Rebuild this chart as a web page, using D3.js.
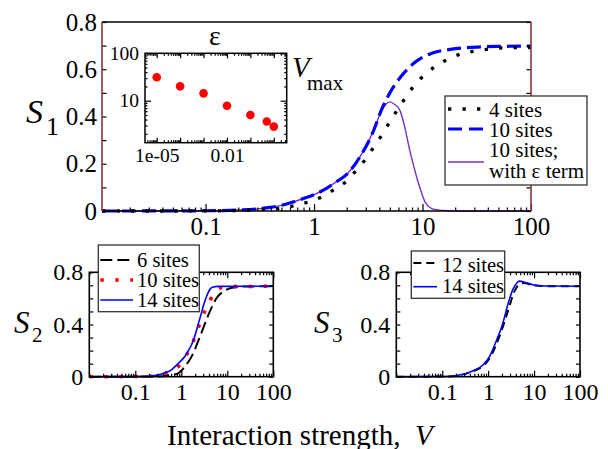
<!DOCTYPE html>
<html>
<head>
<meta charset="utf-8">
<script src="https://d3js.org/d3.v7.min.js"></script>
<style>
  html, body { margin: 0; padding: 0; background: #fff; }
  svg { display: block; }
</style>
</head>
<body>
<script>
// ---------------- DATA ----------------
// Top panel (S1)
const top4V  = [0.0111, 0.05, 0.1, 0.2, 0.35, 0.48, 0.65, 0.87, 1.18, 1.5, 2.0, 2.45, 3.0, 3.57, 4.24, 5.0, 5.94, 7.05, 8.4, 10.5, 13.4, 17.7, 23.4, 32, 44, 61, 100];
const top4S  = [0, 0, 0.0005, 0.002, 0.007, 0.011, 0.022, 0.037, 0.06, 0.088, 0.127, 0.172, 0.221, 0.272, 0.323, 0.378, 0.432, 0.483, 0.532, 0.577, 0.615, 0.645, 0.667, 0.678, 0.687, 0.691, 0.692];
const top10V = [0.0111, 0.05, 0.1, 0.2, 0.33, 0.5, 0.64, 0.8, 1.0, 1.3, 1.6, 2.0, 2.7, 3.5, 4.2, 5.0, 6.3, 8.3, 12, 18, 32, 56, 100];
const top10S = [0, 0.0003, 0.001, 0.004, 0.011, 0.024, 0.038, 0.053, 0.069, 0.096, 0.123, 0.155, 0.235, 0.335, 0.43, 0.50, 0.568, 0.625, 0.667, 0.684, 0.694, 0.697, 0.698];
const topEpsV = [0.0111, 0.05, 0.1, 0.2, 0.33, 0.5, 0.64, 0.8, 1.0, 1.3, 1.6, 2.0, 2.7, 3.5, 4.2, 4.6, 5.0, 5.5, 6.2, 6.9, 7.6, 8.3, 9.0, 9.6, 10.7, 12.8, 17.9, 25, 100];
const topEpsS = [0, 0.0003, 0.001, 0.004, 0.011, 0.024, 0.038, 0.053, 0.069, 0.096, 0.123, 0.155, 0.235, 0.335, 0.425, 0.452, 0.462, 0.452, 0.425, 0.35, 0.26, 0.19, 0.13, 0.089, 0.033, 0.007, 0.001, 0, 0];

// Inset: V_max vs epsilon
const insetEps  = [1e-5, 1e-4, 1e-3, 1e-2, 0.1, 0.5, 1];
const insetVmax = [31.3, 20.1, 14.3, 7.8, 5.0, 3.63, 2.84];

// Bottom-left panel (S2)
const bl6V  = [0.01, 0.1, 0.3, 0.5, 0.7, 0.85, 1.0, 1.19, 1.67, 2.32, 2.99, 4.18, 5.85, 8.9, 14.6, 25, 100];
const bl6S  = [0, 0, 0.002, 0.008, 0.017, 0.026, 0.045, 0.077, 0.154, 0.27, 0.372, 0.5, 0.603, 0.66, 0.685, 0.691, 0.693];
const bl10V = [0.01, 0.1, 0.2, 0.44, 0.85, 1.3, 1.81, 2.32, 3.0, 4.18, 5.85, 8, 12.4, 100];
const bl10S = [0, 0.001, 0.004, 0.026, 0.077, 0.167, 0.27, 0.372, 0.475, 0.582, 0.667, 0.685, 0.69, 0.693];
const bl14V = [0.01, 0.1, 0.2, 0.3, 0.44, 0.6, 0.72, 0.85, 1.0, 1.19, 1.4, 1.67, 2.0, 2.32, 2.65, 3.0, 3.4, 3.84, 4.3, 4.9, 6.3, 100];
const bl14S = [0, 0.001, 0.005, 0.012, 0.03, 0.05, 0.075, 0.1, 0.125, 0.155, 0.195, 0.245, 0.32, 0.40, 0.47, 0.54, 0.6, 0.645, 0.675, 0.687, 0.692, 0.693];

// Bottom-right panel (S3)
const br12V = [0.01, 0.1, 0.24, 0.46, 0.77, 1.07, 1.77, 2.68, 3.74, 4.82, 6.18, 9.4, 18.2, 100];
const br12S = [0, 0.001, 0.012, 0.04, 0.082, 0.14, 0.31, 0.5, 0.654, 0.71, 0.718, 0.70, 0.694, 0.693];
const br14V = [0.01, 0.1, 0.24, 0.46, 0.77, 1.07, 1.49, 2.09, 2.68, 3.44, 4.21, 4.82, 6.18, 9.4, 18.2, 100];
const br14S = [0, 0.001, 0.013, 0.044, 0.09, 0.154, 0.27, 0.41, 0.552, 0.667, 0.718, 0.732, 0.724, 0.705, 0.695, 0.693];

// Tick labels
const topXTicks   = [0.1, 1, 10, 100];
const topXLabels  = ["0.1", "1", "10", "100"];
const topYTicks   = [0, 0.2, 0.4, 0.6, 0.8];
const topYLabels  = ["0", "0.2", "0.4", "0.6", "0.8"];
const botXTicks   = [0.1, 1, 10, 100];
const botXLabels  = ["0.1", "1", "10", "100"];
const botYTicks   = [0, 0.4, 0.8];
const botYLabels  = ["0", "0.4", "0.8"];
const insetXTicks  = [1e-5, 0.01];
const insetXLabels = ["1e-05", "0.01"];
const insetYTicks  = [10, 100];
const insetYLabels = ["10", "100"];

const topLegend = ["4 sites", "10 sites", "10 sites;", "with \u03b5 term"];
const blLegend  = ["6 sites", "10 sites", "14 sites"];
const brLegend  = ["12 sites", "14 sites"];

// ---------------- DRAWING ----------------
const FONT = "'Liberation Serif', 'Times New Roman', serif";
const W = 608, H = 449;
const svg = d3.select("body").append("svg")
  .attr("width", W).attr("height", H)
  .attr("font-family", FONT);
svg.append("rect").attr("width", W).attr("height", H).attr("fill", "#fff");

const zip = (a, b) => a.map((v, i) => ({v: v, s: b[i]}));

function lineGen(x, y) {
  return d3.line().x(d => x(d.v)).y(d => y(d.s)).curve(d3.curveMonotoneX);
}

let clipId = 0;
function makeClip(x, y) {
  const id = "clip" + (clipId++);
  const [x0, x1] = x.range(), [y0, y1] = y.range();
  svg.append("clipPath").attr("id", id).append("rect")
    .attr("x", x0).attr("y", y1 - 2).attr("width", x1 - x0).attr("height", y0 - y1 + 4);
  return id;
}

function styleAxis(g, fs) {
  g.select(".domain").remove();
  g.attr("font-family", FONT).attr("font-size", fs).attr("color", "#000");
  g.selectAll("line").attr("stroke-width", 1.2);
}

// x axis ticks on a log scale: majors + minors, inward
function xTicks(x, yPos, majors, labels, majorLen, minorLen, fs, pad, withLabels, dir) {
  const minors = x.ticks().filter(t => !majors.some(m => Math.abs(Math.log10(m) - Math.log10(t)) < 1e-6));
  const mk = dir === "up" ? d3.axisBottom : d3.axisTop;
  const gMin = svg.append("g").attr("transform", `translate(0,${yPos})`)
    .call(mk(x).tickValues(minors).tickSize(-minorLen).tickFormat(""));
  styleAxis(gMin, fs);
  const gMaj = svg.append("g").attr("transform", `translate(0,${yPos})`)
    .call(mk(x).tickValues(majors).tickSize(-majorLen).tickPadding(pad)
      .tickFormat(withLabels ? ((d, i) => labels[i]) : ""));
  styleAxis(gMaj, fs);
  return gMaj;
}

function yTicks(y, xPos, vals, len, fs, pad, labelFn, side) {
  const mk = side === "left" ? d3.axisLeft : d3.axisRight;
  const g = svg.append("g").attr("transform", `translate(${xPos},0)`)
    .call(mk(y).tickValues(vals).tickSize(-len).tickPadding(pad).tickFormat(labelFn || ""));
  styleAxis(g, fs);
  return g;
}

// ======== TOP PANEL ========
const xT = d3.scaleLog().domain([0.0111, 100]).range([102, 531]);
const yT = d3.scaleLinear().domain([0, 0.8]).range([211, 22]);
{
  const lg = lineGen(xT, yT);
  const cid = makeClip(xT, yT);
  const gc = svg.append("g").attr("clip-path", `url(#${cid})`);
  gc.append("path").datum(zip(topEpsV, topEpsS)).attr("d", lg)
    .attr("fill", "none").attr("stroke", "#7a2fc8").attr("stroke-width", 1.4);
  gc.append("path").datum(zip(top10V, top10S)).attr("d", lg)
    .attr("fill", "none").attr("stroke", "#0000ff").attr("stroke-width", 3.2)
    .attr("stroke-dasharray", "14,6");
  gc.append("path").datum(zip(top4V, top4S)).attr("d", lg)
    .attr("fill", "none").attr("stroke", "#000").attr("stroke-width", 3.3)
    .attr("stroke-dasharray", "3.3,11.2");

  // ticks
  xTicks(xT, 211, topXTicks, topXLabels, 7, 3.5, 25, 6.5, true, "up");
  const yMinor = d3.range(0, 0.81, 0.1);
  yTicks(yT, 102, yMinor, 4.5, 25, 5, null, "left");
  yTicks(yT, 531, yMinor, 4.5, 25, 5, null, "right");
  const gl = svg.append("g").attr("transform", `translate(102,0)`)
    .call(d3.axisLeft(yT).tickValues(topYTicks).tickSize(0).tickPadding(5).tickFormat((d, i) => topYLabels[i]));
  styleAxis(gl, 25);

  // frame
  const [x0, x1] = xT.range(), [yb, yt] = yT.range();
  svg.append("line").attr("x1", x0).attr("x2", x1).attr("y1", yt).attr("y2", yt).attr("stroke", "#000").attr("stroke-width", 1.5);
  svg.append("line").attr("x1", x0).attr("x2", x1).attr("y1", yb).attr("y2", yb).attr("stroke", "#000").attr("stroke-width", 1.5);
  svg.append("line").attr("x1", x0).attr("x2", x0).attr("y1", yt).attr("y2", yb).attr("stroke", "#8a3535").attr("stroke-width", 1.6);
  svg.append("line").attr("x1", x1).attr("x2", x1).attr("y1", yt).attr("y2", yb).attr("stroke", "#8a3535").attr("stroke-width", 1.6);

  // S1 label
  const t = svg.append("text").attr("x", 26).attr("y", 123).attr("font-size", 34);
  t.append("tspan").attr("font-style", "italic").text("S");
  t.append("tspan").attr("x", 46).attr("y", 135).attr("font-size", 26).text("1");

  // legend
  const lx = 445, ly = 96, lw = 142, lh = 89;
  svg.append("rect").attr("x", lx).attr("y", ly).attr("width", lw).attr("height", lh)
    .attr("fill", "#fff").attr("stroke", "#333").attr("stroke-width", 1.3);
  const sampleY = [109, 129, 162];
  const styles = [
    {stroke: "#000", w: 3.3, dash: "3.3,11.2"},
    {stroke: "#0000ff", w: 3.2, dash: "14,7"},
    {stroke: "#7a2fc8", w: 1.4, dash: null}
  ];
  styles.forEach((s, i) => {
    const l = svg.append("line").attr("x1", 448).attr("x2", 484)
      .attr("y1", sampleY[i]).attr("y2", sampleY[i])
      .attr("stroke", s.stroke).attr("stroke-width", s.w);
    if (s.dash) l.attr("stroke-dasharray", s.dash);
  });
  const textY = [116.5, 137, 157, 178];
  topLegend.forEach((txt, i) => {
    svg.append("text").attr("x", 489).attr("y", textY[i]).attr("font-size", 21).text(txt);
  });
}

// ======== INSET ========
{
  const xI = d3.scaleLog().domain([Math.pow(10, -5.5), Math.pow(10, 0.55)]).range([145, 286.7]);
  const yI = d3.scaleLog().domain([1.3, 100]).range([142.7, 53.3]);
  svg.append("rect").attr("x", 145).attr("y", 53.3).attr("width", 141.7).attr("height", 89.4)
    .attr("fill", "#fff");
  // minor ticks
  const xMin = xI.ticks();
  const xMaj = xMin.filter(t => Math.abs(Math.log10(t) - Math.round(Math.log10(t))) < 1e-6);
  const xMinOnly = xMin.filter(t => !xMaj.includes(t));
  [[142.7, d3.axisBottom], [53.3, d3.axisTop]].forEach(([yp, mk]) => {
    styleAxis(svg.append("g").attr("transform", `translate(0,${yp})`)
      .call(mk(xI).tickValues(xMinOnly).tickSize(-2.5).tickFormat("")), 19);
    styleAxis(svg.append("g").attr("transform", `translate(0,${yp})`)
      .call(mk(xI).tickValues(xMaj).tickSize(-5).tickFormat("")), 19);
  });
  const yAll = yI.ticks();
  const yMaj = yAll.filter(t => Math.abs(Math.log10(t) - Math.round(Math.log10(t))) < 1e-6);
  const yMinOnly = yAll.filter(t => !yMaj.includes(t));
  [[145, d3.axisLeft], [286.7, d3.axisRight]].forEach(([xp, mk]) => {
    styleAxis(svg.append("g").attr("transform", `translate(${xp},0)`)
      .call(mk(yI).tickValues(yMinOnly).tickSize(-2.5).tickFormat("")), 19);
    styleAxis(svg.append("g").attr("transform", `translate(${xp},0)`)
      .call(mk(yI).tickValues(yMaj).tickSize(-6).tickFormat("")), 19);
  });
  // labels
  styleAxis(svg.append("g").attr("transform", `translate(0,142.7)`)
    .call(d3.axisBottom(xI).tickValues(insetXTicks).tickSize(0).tickPadding(5)
      .tickFormat((d, i) => insetXLabels[i])), 19.5);
  styleAxis(svg.append("g").attr("transform", `translate(145,0)`)
    .call(d3.axisLeft(yI).tickValues(insetYTicks).tickSize(0).tickPadding(6)
      .tickFormat((d, i) => insetYLabels[i])), 19.5);
  svg.append("rect").attr("x", 145).attr("y", 53.3).attr("width", 141.7).attr("height", 89.4)
    .attr("fill", "none").attr("stroke", "#000").attr("stroke-width", 1.5);
  // points
  svg.append("g").selectAll("circle").data(zip(insetEps, insetVmax)).join("circle")
    .attr("cx", d => xI(d.v)).attr("cy", d => yI(d.s)).attr("r", 4.3).attr("fill", "#ff0000");
  // titles
  svg.append("text").attr("x", 215).attr("y", 45).attr("text-anchor", "middle")
    .attr("font-size", 28).text("\u03b5");
  svg.append("text").attr("x", 292).attr("y", 77).attr("font-size", 29)
    .attr("font-style", "italic").text("V");
  svg.append("text").attr("x", 307).attr("y", 90).attr("font-size", 21).text("max");
}

// ======== BOTTOM PANELS ========
function bottomPanel(xr, series, legend, legendBox, sLabel) {
  const x = d3.scaleLog().domain([0.01, 100]).range(xr);
  const y = d3.scaleLinear().domain([0, 0.8]).range([376.7, 272.3]);
  const lg = lineGen(x, y);
  const cid = makeClip(x, y);
  const gc = svg.append("g").attr("clip-path", `url(#${cid})`);
  series.forEach(s => {
    const p = gc.append("path").datum(zip(s.v, s.s)).attr("d", lg)
      .attr("fill", "none").attr("stroke", s.stroke).attr("stroke-width", s.w);
    if (s.dash) p.attr("stroke-dasharray", s.dash);
  });
  // ticks
  xTicks(x, 376.7, botXTicks, botXLabels, 6, 3, 24, 6.5, true, "up");
  xTicks(x, 272.3, botXTicks, botXLabels, 6, 3, 24, 6.5, false, "down");
  const yMinor = d3.range(0, 0.81, 0.1);
  yTicks(y, xr[0], yMinor, 4, 24, 5, null, "left");
  yTicks(y, xr[1], yMinor, 4, 24, 5, null, "right");
  const gl = svg.append("g").attr("transform", `translate(${xr[0]},0)`)
    .call(d3.axisLeft(y).tickValues(botYTicks).tickSize(0).tickPadding(6).tickFormat((d, i) => botYLabels[i]));
  styleAxis(gl, 24);
  svg.append("rect").attr("x", xr[0]).attr("y", 272.3).attr("width", xr[1] - xr[0]).attr("height", 104.4)
    .attr("fill", "none").attr("stroke", "#000").attr("stroke-width", 1.6);

  // legend
  const b = legendBox;
  svg.append("rect").attr("x", b.x).attr("y", b.y).attr("width", b.w).attr("height", b.h)
    .attr("fill", "#fff").attr("stroke", "#333").attr("stroke-width", 1.3);
  series.forEach((s, i) => {
    const l = svg.append("line").attr("x1", b.x + 2).attr("x2", b.sx)
      .attr("y1", b.ly[i]).attr("y2", b.ly[i])
      .attr("stroke", s.stroke).attr("stroke-width", s.w);
    if (s.dash) l.attr("stroke-dasharray", s.dash);
    svg.append("text").attr("x", b.tx).attr("y", b.ty[i]).attr("font-size", 20.5).text(legend[i]);
  });
  // S label
  const t = svg.append("text").attr("x", sLabel.x).attr("y", 333).attr("font-size", 31);
  t.append("tspan").attr("font-style", "italic").text("S");
  t.append("tspan").attr("x", sLabel.x + 18).attr("y", 342).attr("font-size", 21).text(sLabel.sub);
}

bottomPanel([89.3, 273.3], [
  {v: bl6V, s: bl6S, stroke: "#000", w: 2, dash: "12,5"},
  {v: bl10V, s: bl10S, stroke: "#ff0000", w: 3.5, dash: "3.5,11.5"},
  {v: bl14V, s: bl14S, stroke: "#0000ff", w: 1.6, dash: null}
], blLegend, {x: 98.3, y: 245, w: 101, h: 66.7, sx: 133, tx: 137, ly: [260, 280, 300], ty: [266.7, 286.7, 306.7]},
  {x: 14, sub: "2"});

bottomPanel([396.3, 580], [
  {v: br12V, s: br12S, stroke: "#000", w: 2, dash: "8,5"},
  {v: br14V, s: br14S, stroke: "#0000ff", w: 1.6, dash: null}
], brLegend, {x: 411.3, y: 251, w: 93.4, h: 47.3, sx: 437, tx: 442, ly: [263, 286.7], ty: [271.7, 293.3]},
  {x: 314, sub: "3"});

// x-axis title
{
  const t = svg.append("text").attr("x", 167).attr("y", 445).attr("font-size", 29)
    .attr("xml:space", "preserve").style("white-space", "pre");
  t.append("tspan").text("Interaction strength,  ");
  t.append("tspan").attr("font-style", "italic").text("V");
}
</script>
</body>
</html>
